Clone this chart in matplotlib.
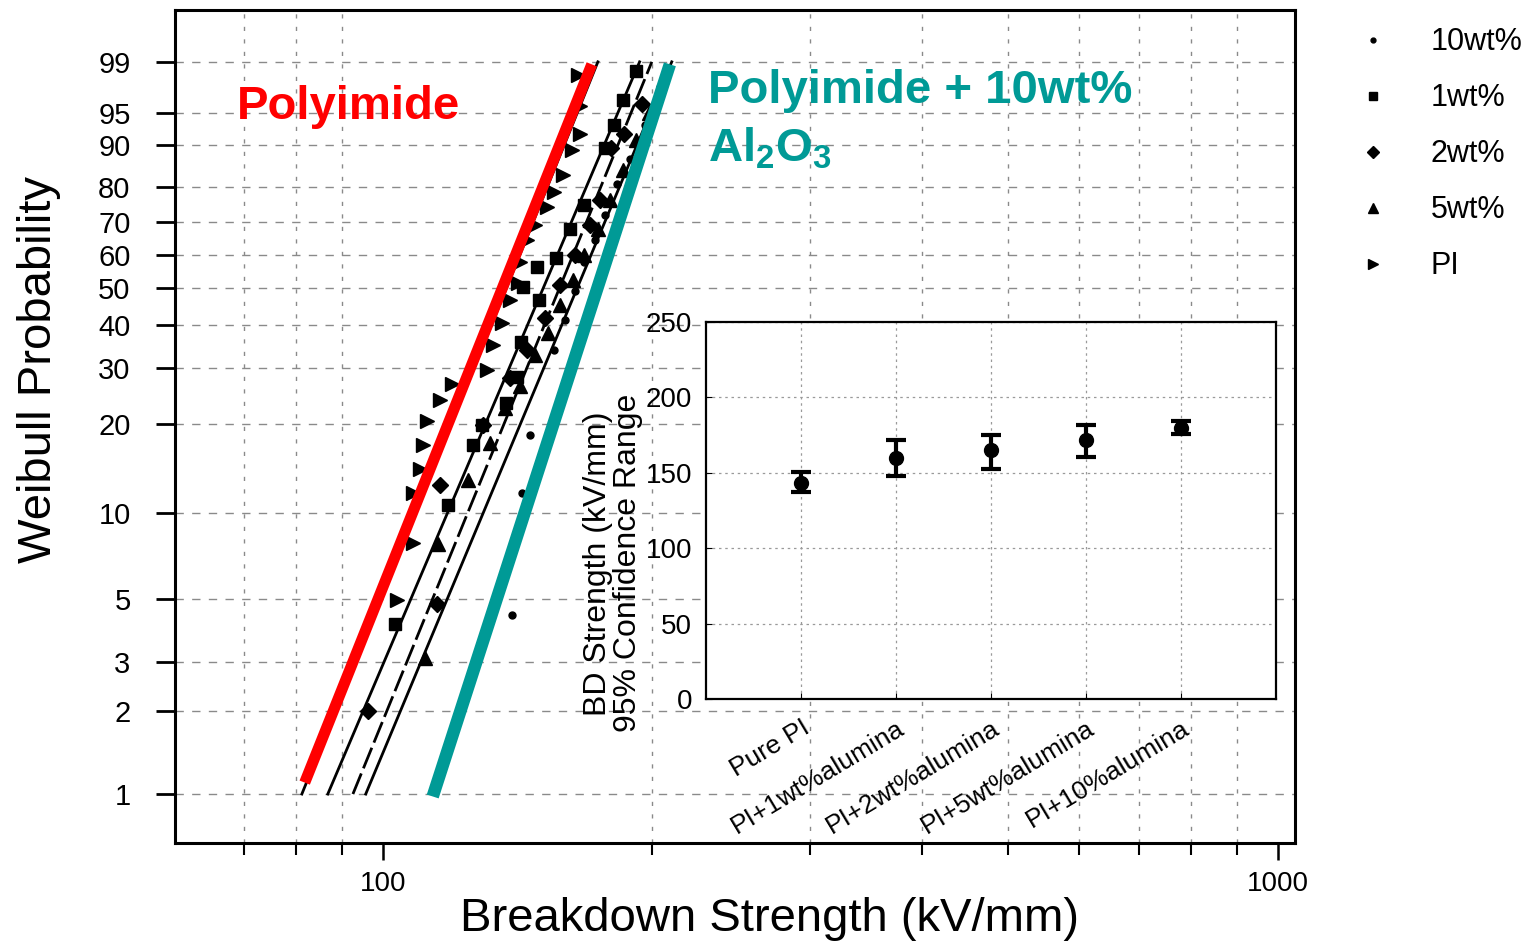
import numpy as np
import matplotlib
matplotlib.use("Agg")
import matplotlib.pyplot as plt
from matplotlib import font_manager
from matplotlib.ticker import FixedLocator, NullFormatter, FixedFormatter

# ---- Weibull plot data (breakdown strength kV/mm, cumulative probability %) ----
pi_kv = [103.7, 108.0, 108.0, 110.0, 110.8, 112.0, 115.8, 119.4, 130.7, 132.7, 135.8, 138.6,
         141.5, 142.2, 144.8, 147.8, 152.4, 155.5, 158.8, 162.6, 165.9, 165.9, 165.1]
pi_p = [4.98, 7.9, 11.7, 14.2, 17.0, 20.4, 23.8, 26.7, 29.5, 35.0, 40.5, 46.6,
        51.5, 57.7, 64.6, 69.2, 74.6, 78.7, 83.3, 89.0, 92.0, 95.8, 98.4]

wt1_kv = [103.1, 118.2, 126.0, 129.0, 137.2, 141.1, 142.6, 143.4, 148.8, 149.5, 156.2,
          161.7, 168.0, 177.0, 181.3, 185.4, 192.0]
wt1_p = [4.1, 10.7, 17.0, 19.8, 23.2, 28.1, 35.8, 50.3, 56.3, 46.6, 59.1,
         67.8, 75.2, 89.4, 93.4, 96.5, 98.6]

wt2_kv = [96.2, 114.9, 115.8, 129.3, 138.6, 144.8, 151.6, 157.6, 164.1, 170.2, 174.7,
          180.1, 186.2, 194.6]
wt2_p = [2.0, 4.8, 12.5, 19.8, 27.9, 33.9, 41.8, 51.0, 60.0, 69.2, 76.6,
         89.4, 92.0, 96.1]

wt5_kv = [111.4, 115.2, 124.5, 131.7, 136.8, 142.2, 147.8, 152.8, 157.6, 163.0, 168.0,
          173.8, 179.2, 185.7, 192.0, 198.6]
wt5_p = [3.1, 7.8, 13.0, 17.3, 22.4, 26.3, 32.8, 37.8, 45.2, 52.4, 60.0,
         67.8, 76.6, 84.5, 90.9, 95.0]

wt10_kv = [139.3, 142.9, 145.9, 155.5, 159.6, 164.1, 168.0, 172.5, 177.0, 182.9, 188.7,
           196.1, 203.9]
wt10_p = [4.4, 11.7, 18.4, 33.9, 41.2, 49.2, 57.7, 64.6, 72.1, 81.0, 87.0,
          93.4, 97.6]

# Weibull fit lines (kV/mm at 1 % and 99 %)
fit_p = [1.0, 99.0]
fit_pi = [81.2, 173.9]
fit_1wt = [86.8, 193.6]
fit_2wt = [92.6, 199.8]
fit_5wt = [95.7, 210.3]

# highlighted fits
red_kv = [81.8, 171.2]
red_p = [1.1, 98.9]
teal_kv = [113.7, 209.3]
teal_p = [0.98, 98.9]

prob_ticks = [1, 2, 3, 5, 10, 20, 30, 40, 50, 60, 70, 80, 90, 95, 99]
x_minor = [70, 80, 90, 200, 300, 400, 500, 600, 700, 800, 900]

# ---- inset data ----
inset_cats = ["Pure PI", "PI+1wt%alumina", "PI+2wt%alumina", "PI+5wt%alumina", "PI+10%alumina"]
bd_mean = [143.0, 160.0, 165.0, 172.0, 180.0]
bd_low = [137.0, 148.0, 152.5, 160.5, 175.5]
bd_high = [150.5, 171.5, 175.0, 181.5, 184.5]

names = {f.name for f in font_manager.fontManager.ttflist}
NARROW = "Liberation Sans Narrow" if "Liberation Sans Narrow" in names else "Liberation Sans"
REG = "Liberation Sans"

plt.rcParams["font.family"] = [REG, "DejaVu Sans"]
plt.rcParams["mathtext.default"] = "regular"


def weib(p):
    p = np.clip(np.asarray(p, dtype=float), 1e-6, 100 - 1e-9)
    return np.log(-np.log(1 - p / 100.0))


def weib_inv(t):
    return 100.0 * (1 - np.exp(-np.exp(np.asarray(t, dtype=float))))


fig = plt.figure(figsize=(15.33, 9.44), dpi=100)
ax = fig.add_axes([0.1142, 0.1070, 0.7305, 0.8824])
ax.set_xscale("log")
ax.set_yscale("function", functions=(weib, weib_inv))
ax.set_xlim(58.6, 1045)
ax.set_ylim(0.665, 99.918)

# grid
for p in prob_ticks:
    ax.axhline(p, color="#8a8a8a", lw=1.0, ls=(0, (6, 6)), zorder=0)
for v in x_minor:
    ax.axvline(v, color="#8a8a8a", lw=1.0, ls=(0, (3, 6)), zorder=0)

# fit lines
ax.plot(fit_pi, fit_p, color="black", lw=2)
ax.plot(fit_1wt, fit_p, color="black", lw=2)
ax.plot(fit_2wt, fit_p, color="black", lw=2, ls=(0, (8, 2)))
ax.plot(fit_5wt, fit_p, color="black", lw=2)

ms = 10.5
ax.plot(wt10_kv, wt10_p, ls="none", marker="o", ms=5, color="black", label="10wt%")
ax.plot(wt1_kv, wt1_p, ls="none", marker="s", ms=ms - 1.5, color="black", label="1wt%")
ax.plot(wt2_kv, wt2_p, ls="none", marker="D", ms=ms - 2, color="black", label="2wt%")
ax.plot(wt5_kv, wt5_p, ls="none", marker="^", ms=ms, color="black", label="5wt%")
ax.plot(pi_kv, pi_p, ls="none", marker=">", ms=ms, color="black", label="PI")

ax.plot(red_kv, red_p, color="#ff0000", lw=8, solid_capstyle="butt", zorder=5)
ax.plot(teal_kv, teal_p, color="#009a96", lw=9, solid_capstyle="butt", zorder=5)

# axes styling
for s in ax.spines.values():
    s.set_linewidth(2.2)
ax.yaxis.set_major_locator(FixedLocator(prob_ticks))
ax.yaxis.set_major_formatter(FixedFormatter([str(p) for p in prob_ticks]))
ax.yaxis.set_minor_locator(FixedLocator([]))
ax.xaxis.set_major_locator(FixedLocator([100, 1000]))
ax.xaxis.set_major_formatter(FixedFormatter(["100", "1000"]))
ax.xaxis.set_minor_locator(FixedLocator(x_minor))
ax.xaxis.set_minor_formatter(NullFormatter())
ax.tick_params(axis="y", direction="out", length=14, width=2, pad=18, labelsize=21)
ax.tick_params(axis="x", which="major", direction="out", length=12, width=1.8, pad=8)
ax.tick_params(axis="x", which="minor", direction="out", length=8.5, width=1.5)
for lab in ax.get_xticklabels():
    lab.set_fontfamily(NARROW)
    lab.set_fontsize(20)
ax.set_xlabel("Breakdown Strength (kV/mm)", family=NARROW, fontsize=34, labelpad=0)
ax.xaxis.label.set_x(0.531)
ax.set_ylabel("Weibull Probability", family=NARROW, fontsize=34, labelpad=27)
ax.yaxis.label.set_y(0.568)

ax.text(0.055, 0.884, "Polyimide", transform=ax.transAxes, color="#ff0000",
        fontsize=34, fontweight="bold", va="center")
ax.text(0.476, 0.903, "Polyimide + 10wt%", transform=ax.transAxes, color="#009a96",
        fontsize=34, fontweight="bold", va="center")
ax.text(0.476, 0.834, "Al$_{2}$O$_{3}$", transform=ax.transAxes, color="#009a96",
        fontsize=34, fontweight="bold", va="center")

fig.legend(loc="upper left", bbox_to_anchor=(0.8676, 1.0), frameon=False,
           fontsize=22, markerscale=0.7, handlelength=1.0, handletextpad=1.4,
           labelspacing=0.85, numpoints=1)

# ---- inset ----
ins = fig.add_axes([0.4605, 0.2595, 0.3718, 0.3994])
ins.set_facecolor("white")
xpos = np.arange(1, len(inset_cats) + 1)
yerr = [np.array(bd_mean) - np.array(bd_low), np.array(bd_high) - np.array(bd_mean)]
ins.errorbar(xpos, bd_mean, yerr=yerr, fmt="o", color="black", ms=10, elinewidth=3,
             capsize=7.5, capthick=3)
ins.set_xlim(0, 6)
ins.set_ylim(0, 250)
ins.set_yticks([0, 50, 100, 150, 200, 250])
ins.set_xticks(xpos)
ins.set_xticklabels(inset_cats, rotation=31, ha="right", rotation_mode="anchor",
                    family=NARROW, fontsize=19)
for lab in ins.get_yticklabels():
    lab.set_fontfamily(NARROW)
    lab.set_fontsize(20)
ins.tick_params(axis="y", direction="in", length=4, pad=10)
ins.tick_params(axis="x", direction="in", length=4, pad=12)
ins.grid(True, color="#9a9a9a", lw=0.9, ls=(0, (2, 3)))
ins.set_axisbelow(True)
for s in ins.spines.values():
    s.set_linewidth(1.6)
ins.set_ylabel("BD Strength (kV/mm)\n95% Confidence Range", family=NARROW,
               fontsize=23, linespacing=1.0, labelpad=2)
ins.yaxis.label.set_y(0.36)

fig.savefig("out.png", dpi=100)
